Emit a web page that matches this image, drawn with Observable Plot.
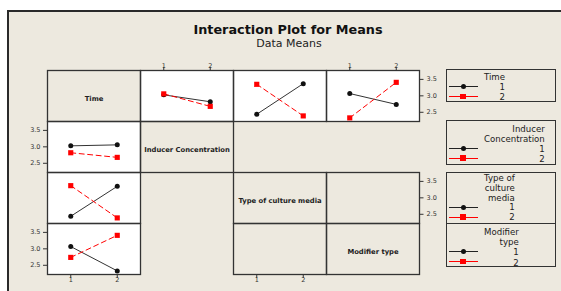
<!DOCTYPE html>
<html><head><meta charset="utf-8">
<script src="https://cdn.jsdelivr.net/npm/d3@7"></script>
<script src="https://cdn.jsdelivr.net/npm/@observablehq/plot@0.6"></script>
<style>
body{margin:0;background:#fff;width:561px;height:291px;overflow:hidden;position:relative;font-family:"DejaVu Sans",sans-serif;}
#bg{position:absolute;left:7px;top:10px;width:560px;height:290px;background:#EDE9DF;border-left:2px solid #2a2a2a;border-top:2px solid #2a2a2a;}
#title{position:absolute;left:0;width:576px;text-align:center;top:23px;font-weight:bold;font-size:12.8px;color:#111;line-height:14px;}
#subtitle{position:absolute;left:0;width:578px;text-align:center;top:37.5px;font-size:11px;color:#222;line-height:12px;}
#chart{position:absolute;left:0;top:50px;}
.lg{position:absolute;left:446px;width:110px;border:1px solid #333;box-sizing:border-box;font-size:8.6px;color:#222;line-height:10.2px;overflow:visible;}
.lg .col{position:absolute;left:37px;text-align:right;white-space:nowrap;}
.lg .smp{position:absolute;left:2px;width:29px;height:0;}
.lg .mk{position:absolute;}
</style></head>
<body>
<div id="bg"></div>
<div id="title"></div>
<div id="subtitle"></div>
<div id="chart"></div>
<div id="legends"></div>
<script>
const titleText = "Interaction Plot for Means";
const subtitleText = "Data Means";
const factors = ["Time", "Inducer Concentration", "Type of culture media", "Modifier type"];
const levels = [1, 2];
const levelColors = ["#111111", "#ff0000"];
// interaction panels: trace factor (row) and x factor (column)
const panelRows = ["Time", "Time", "Time", "Inducer Concentration", "Type of culture media", "Modifier type"];
const panelCols = ["Inducer Concentration", "Type of culture media", "Modifier type", "Time", "Time", "Time"];
// means of the response for trace level 1 and level 2, at x = 1 and x = 2
const meansLevel1 = [[3.03, 2.82], [2.44, 3.37], [3.07, 2.74], [3.03, 3.06], [2.44, 3.35], [3.07, 2.33]];
const meansLevel2 = [[3.06, 2.68], [3.35, 2.39], [2.33, 3.41], [2.82, 2.68], [3.37, 2.39], [2.74, 3.41]];
const yTicks = [2.5, 3.0, 3.5];
const xTicks = [1, 2];
const legendTitles = [["Time"], ["Inducer", "Concentration"], ["Type of", "culture", "media"], ["Modifier", "type"]];

document.getElementById("title").textContent = titleText;
document.getElementById("subtitle").textContent = subtitleText;

const pts1 = [], pts2 = [];
panelRows.forEach((r, i) => {
  xTicks.forEach((x, j) => {
    pts1.push({r, c: panelCols[i], x, y: meansLevel1[i][j]});
    pts2.push({r, c: panelCols[i], x, y: meansLevel2[i][j]});
  });
});
const plotCells = panelRows.map((r, i) => ({r, c: panelCols[i]}));
const diagCells = factors.map(f => ({r: f, c: f}));

const yLeft = [], yRight = [], xTop = [], xBottom = [];
[factors[1], factors[3]].forEach(r => yTicks.forEach(v => yLeft.push({r, c: factors[0], v})));
[factors[0], factors[2]].forEach(r => yTicks.forEach(v => yRight.push({r, c: factors[3], v})));
[factors[1], factors[3]].forEach(c => xTicks.forEach(v => xTop.push({r: factors[0], c, v})));
[factors[0], factors[2]].forEach(c => xTicks.forEach(v => xBottom.push({r: factors[3], c, v})));

const hTick = {draw(ctx) { ctx.moveTo(-4.5, 0); ctx.lineTo(0, 0); }};
const hTickR = {draw(ctx) { ctx.moveTo(0, 0); ctx.lineTo(4, 0); }};
const vTickB = {draw(ctx) { ctx.moveTo(0, 0); ctx.lineTo(0, 3.5); }};
const vTickT = {draw(ctx) { ctx.moveTo(0, 0); ctx.lineTo(0, -3.5); }};
const fmt = d3.format(".1f");
const axisText = {fontSize: 6.5, fill: "#333", fontFamily: "DejaVu Sans"};

const chart = Plot.plot({
  width: 440, height: 241,
  marginLeft: 46.5, marginRight: 20, marginTop: 19, marginBottom: 16,
  style: {background: "transparent", overflow: "visible", fontFamily: "DejaVu Sans"},
  fx: {domain: factors, padding: 0, axis: null},
  fy: {domain: factors, padding: 0, axis: null},
  x: {domain: [0.5, 2.5], axis: null},
  y: {domain: [2.22, 3.77], axis: null},
  marks: [
    Plot.rect(plotCells, {fx: "c", fy: "r", fill: "white"}),
    Plot.frame({stroke: "#333", strokeWidth: 1.3}),
    Plot.line(pts1, {fx: "c", fy: "r", x: "x", y: "y", stroke: "#333", strokeWidth: 1}),
    Plot.line(pts2, {fx: "c", fy: "r", x: "x", y: "y", stroke: levelColors[1], strokeWidth: 1, strokeDasharray: "5,3.5"}),
    Plot.dot(pts1, {fx: "c", fy: "r", x: "x", y: "y", symbol: "circle", r: 2.5, fill: levelColors[0], stroke: "none"}),
    Plot.dot(pts2, {fx: "c", fy: "r", x: "x", y: "y", symbol: "square", r: 2.9, fill: levelColors[1], stroke: "none"}),
    Plot.text(diagCells, {fx: "c", fy: "r", text: "r", frameAnchor: "middle", dy: 3, fontWeight: "bold", fontSize: 6.8, fill: "#222"}),
    Plot.dot(yLeft, {fx: "c", fy: "r", y: "v", frameAnchor: "left", symbol: hTick, stroke: "#333", strokeWidth: 1}),
    Plot.text(yLeft, {fx: "c", fy: "r", y: "v", frameAnchor: "left", dx: -7, textAnchor: "end", text: d => fmt(d.v), ...axisText}),
    Plot.dot(yRight, {fx: "c", fy: "r", y: "v", frameAnchor: "right", symbol: hTickR, stroke: "#333", strokeWidth: 1}),
    Plot.text(yRight, {fx: "c", fy: "r", y: "v", frameAnchor: "right", dx: 7, textAnchor: "start", text: d => fmt(d.v), ...axisText}),
    Plot.dot(xTop, {fx: "c", fy: "r", x: "v", frameAnchor: "top", symbol: vTickT, stroke: "#333", strokeWidth: 1}),
    Plot.text(xTop, {fx: "c", fy: "r", x: "v", frameAnchor: "top", dy: -7, text: d => String(d.v), ...axisText}),
    Plot.dot(xBottom, {fx: "c", fy: "r", x: "v", frameAnchor: "bottom", symbol: vTickB, stroke: "#333", strokeWidth: 1}),
    Plot.text(xBottom, {fx: "c", fy: "r", x: "v", frameAnchor: "bottom", dy: 7, text: d => String(d.v), ...axisText})
  ]
});
document.getElementById("chart").appendChild(chart);

// legends
const boxTops = [69, 120, 172, 223];
const boxHeights = [33, 45, 52, 44];
const boxPad = [2, 2.5, 1, 3];
const boxLine = [10.2, 10.2, 9.8, 10.2];
const lgWrap = document.getElementById("legends");
legendTitles.forEach((lines, k) => {
  const box = document.createElement("div");
  box.className = "lg";
  box.style.top = boxTops[k] + "px";
  box.style.height = boxHeights[k] + "px";
  box.style.lineHeight = boxLine[k] + "px";
  const col = document.createElement("div");
  col.className = "col";
  col.style.top = boxPad[k] + "px";
  col.innerHTML = lines.concat(levels.map(String)).map(s => `<div>${s}</div>`).join("");
  box.appendChild(col);
  levels.forEach((lv, j) => {
    const yc = boxPad[k] + (lines.length + j) * boxLine[k] + boxLine[k] / 2 - 1;
    const s = document.createElement("div");
    s.className = "smp";
    s.style.top = (yc - 0.5) + "px";
    s.style.borderTop = "1px solid " + (j === 0 ? "#222" : levelColors[1]);
    box.appendChild(s);
    const m = document.createElement("div");
    m.className = "mk";
    const sz = j === 0 ? 5 : 5.5;
    m.style.width = sz + "px"; m.style.height = sz + "px";
    m.style.left = (16 - sz / 2) + "px";
    m.style.top = (yc - sz / 2) + "px";
    m.style.background = levelColors[j];
    if (j === 0) m.style.borderRadius = "50%";
    box.appendChild(m);
  });
  lgWrap.appendChild(box);
});
</script>
</body></html>
